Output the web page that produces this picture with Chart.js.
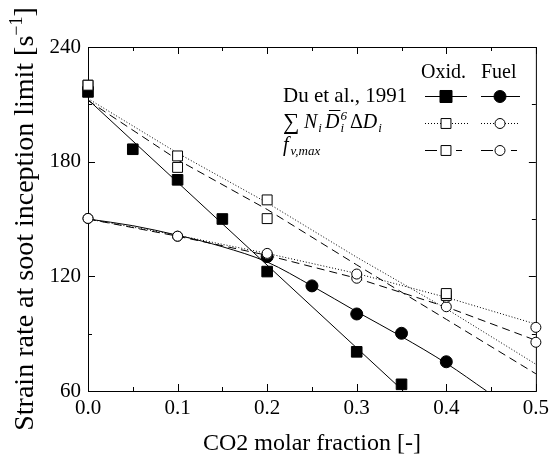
<!DOCTYPE html>
<html>
<head>
<meta charset="utf-8">
<script src="https://cdn.jsdelivr.net/npm/chart.js@4.4.1/dist/chart.umd.min.js"></script>
<style>
    html, body { margin: 0; padding: 0; background: #fff; }
</style>
</head>
<body>
<canvas id="chart" width="554" height="455"></canvas>
<script>
// axes
var xTickLabels = ['0.0', '0.1', '0.2', '0.3', '0.4', '0.5'];
var xMinorTicks = [0.05, 0.15, 0.25, 0.35, 0.45];
var yTickLabels = [60, 120, 180, 240];
var yMinorTicks = [90, 150, 210];

// Du et al., 1991 (filled markers)
var oxidExpX = [0, 0.05, 0.1, 0.15, 0.2, 0.3, 0.35];
var oxidExpY = [216.5, 186.5, 170.5, 150, 122.5, 80.5, 63.5];
var fuelExpX = [0.2, 0.25, 0.3, 0.35, 0.4];
var fuelExpY = [130.3, 115, 100.3, 90.2, 75.3];

// solid curves through the experiments
var oxidFitX = [0, 0.352];
var oxidFitY = [212.5, 60];
var fuelFitX = [0, 0.05, 0.1, 0.15, 0.2, 0.25, 0.3, 0.35, 0.4, 0.445];
var fuelFitY = [150, 146.5, 141.5, 135.5, 127.5, 115, 101.5, 88.5, 74.5, 60];

// model markers (open)
var oxidMarkX = [0, 0.1, 0.2, 0.4];
var oxidSumMark = [220, 183, 160, 111];
var oxidFvMark = [220, 177, 150.2, 110];
var fuelMarkX = [0, 0.1, 0.2, 0.3, 0.4, 0.5];
var fuelSumMark = [150.3, 141, 132, 121.2, 109, 93.3];
var fuelFvMark = [150.3, 141, 131.5, 119, 104.1, 85.5];

// model lines: dotted = sum N D^6 dD, dashed = fv,max
var lineX = [0, 0.1, 0.2, 0.3, 0.4, 0.5];
var oxidSumLine = [213, 184.5, 158.5, 130, 103, 74];
var oxidFvLine = [212, 181, 155, 126, 97.5, 69];
var fuelSumLine = [150, 141.5, 132, 121.5, 109, 95];
var fuelFvLine = [150, 141, 131, 119, 104, 86.5];

var SERIF = '"Liberation Serif", "Times New Roman", serif';
var DOT = [1, 2];
var DASH = [8, 5];

function pts(xs, ys) {
    return xs.map(function (x, i) { return {x: x, y: ys[i]}; });
}

function lineSet(xs, ys, dash, order, smooth) {
    return {
        data: pts(xs, ys),
        showLine: true,
        borderColor: '#000',
        borderWidth: 1,
        borderDash: dash,
        pointRadius: 0,
        fill: false,
        cubicInterpolationMode: smooth ? 'monotone' : 'default',
        order: order
    };
}

function markSet(xs, ys, style, radius, filled, order) {
    return {
        data: pts(xs, ys),
        showLine: false,
        pointStyle: style,
        pointRadius: radius,
        pointBorderWidth: 1,
        pointBorderColor: '#000',
        pointBackgroundColor: filled ? '#000' : '#fff',
        clip: false,
        order: order
    };
}

function seg(ctx, x1, y1, x2, y2) {
    ctx.beginPath();
    ctx.moveTo(x1, y1);
    ctx.lineTo(x2, y2);
    ctx.stroke();
}

function mark(ctx, style, x, y, r, filled) {
    ctx.beginPath();
    if (style == 'rect') {
        var h = r * Math.SQRT1_2;
        ctx.rect(x - h, y - h, 2 * h, 2 * h);
    } else {
        ctx.arc(x, y, r, 0, Math.PI * 2);
    }
    ctx.fillStyle = filled ? '#000' : '#fff';
    ctx.fill();
    ctx.setLineDash([]);
    ctx.stroke();
}

// writes pieces one after the other: [text, font, dy]
function run(ctx, x, y, parts) {
    parts.forEach(function (p) {
        ctx.font = p[1];
        ctx.fillText(p[0], x, y + (p[2] || 0));
        x += ctx.measureText(p[0]).width + (p[3] || 0);
    });
    return x;
}

var framePlugin = {
    id: 'frame',
    beforeDatasetsDraw: function (chart) {
        var ctx = chart.ctx, a = chart.chartArea;
        var xs = chart.scales.x, ys = chart.scales.y;
        ctx.save();
        ctx.strokeStyle = '#000';
        ctx.lineWidth = 1;
        ctx.setLineDash([]);
        ctx.strokeRect(a.left + 0.5, a.top + 0.5, a.right - a.left, a.bottom - a.top);
        function xt(v, len) {
            var p = Math.round(xs.getPixelForValue(v)) + 0.5;
            seg(ctx, p, a.bottom, p, a.bottom - len);
            seg(ctx, p, a.top, p, a.top + len);
        }
        function yt(v, len) {
            var p = Math.round(ys.getPixelForValue(v)) + 0.5;
            seg(ctx, a.left, p, a.left + len, p);
            seg(ctx, a.right, p, a.right - len, p);
        }
        xTickLabels.forEach(function (t) { xt(parseFloat(t), 7); });
        xMinorTicks.forEach(function (v) { xt(v, 4); });
        yTickLabels.forEach(function (v) { yt(v, 7); });
        yMinorTicks.forEach(function (v) { yt(v, 4); });
        ctx.restore();
    },
    afterDraw: function (chart) {
        var ctx = chart.ctx, a = chart.chartArea;
        ctx.save();
        ctx.fillStyle = '#000';
        ctx.strokeStyle = '#000';
        ctx.lineWidth = 1;

        // x title
        ctx.textAlign = 'center';
        ctx.textBaseline = 'alphabetic';
        ctx.font = '24px ' + SERIF;
        ctx.fillText('CO2 molar fraction [-]', (a.left + a.right) / 2, 450);

        // y title, rotated
        ctx.textAlign = 'left';
        var big = '28px ' + SERIF, sup = '18px ' + SERIF;
        var parts = [['Strain rate at soot inception limit [s', big, 0], ['\u22121', sup, -11], [']', big, 0]];
        var w = 0;
        parts.forEach(function (p) { ctx.font = p[1]; w += ctx.measureText(p[0]).width; });
        ctx.save();
        ctx.translate(33, 219);
        ctx.rotate(-Math.PI / 2);
        run(ctx, -w / 2, 0, parts);
        ctx.restore();

        // legend
        var reg = '20px ' + SERIF, it = 'italic 20px ' + SERIF, sm = 'italic 13px ' + SERIF;
        ctx.font = reg;
        ctx.fillText('Oxid.', 421, 78);
        ctx.fillText('Fuel', 481, 78);
        ctx.font = '21px ' + SERIF;
        ctx.fillText('Du et al., 1991', 283, 102);

        ctx.font = '23px ' + SERIF;
        ctx.fillText('\u2211', 283, 129);
        var x = run(ctx, 304, 128, [['N', it, 0, 1], ['i', sm, 4, 3]]);
        ctx.font = it;
        var dw = ctx.measureText('D').width;
        ctx.fillText('D', x, 128);
        ctx.fillRect(x + 4, 110, dw - 3, 1);
        x += dw + 1;
        ctx.font = sm;
        ctx.fillText('6', x, 120);
        ctx.fillText('i', x, 132);
        x += ctx.measureText('6').width + 3;
        run(ctx, x, 128, [['\u0394', reg, 0], ['D', it, 0, 1], ['i', sm, 4]]);

        run(ctx, 283, 151, [['f', it, 0, 2], ['v,max', sm, 4]]);

        // legend samples
        ctx.setLineDash([]);
        seg(ctx, 425, 96.5, 467, 96.5);
        seg(ctx, 481, 96.5, 520, 96.5);
        mark(ctx, 'rect', 446, 96.5, 8.5, true);
        mark(ctx, 'circle', 500, 96.5, 6, true);

        ctx.setLineDash(DOT);
        seg(ctx, 425, 123.5, 468, 123.5);
        seg(ctx, 481, 123.5, 520, 123.5);
        mark(ctx, 'rect', 446, 123.5, 7, false);
        mark(ctx, 'circle', 500, 123.5, 5, false);

        ctx.setLineDash([]);
        seg(ctx, 425, 150.5, 437, 150.5);
        seg(ctx, 456, 150.5, 462, 150.5);
        seg(ctx, 481, 150.5, 493, 150.5);
        seg(ctx, 511, 150.5, 517, 150.5);
        mark(ctx, 'rect', 446, 150.5, 7, false);
        mark(ctx, 'circle', 500, 150.5, 5, false);
        ctx.restore();
    }
};

var ctx = document.getElementById('chart').getContext('2d');
new Chart(ctx, {
    type: 'scatter',
    data: {
        datasets: [
            markSet(oxidMarkX, oxidSumMark, 'rect', 7, false, 0),
            markSet(oxidMarkX, oxidFvMark, 'rect', 7, false, 0),
            markSet(fuelMarkX, fuelSumMark, 'circle', 5, false, 0),
            markSet(fuelMarkX, fuelFvMark, 'circle', 5, false, 0),
            markSet(oxidExpX, oxidExpY, 'rect', 7.5, true, 1),
            markSet(fuelExpX, fuelExpY, 'circle', 6, true, 1),
            lineSet(oxidFitX, oxidFitY, [], 2, false),
            lineSet(fuelFitX, fuelFitY, [], 2, true),
            lineSet(lineX, oxidSumLine, DOT, 2, false),
            lineSet(lineX, oxidFvLine, DASH, 2, false),
            lineSet(lineX, fuelSumLine, DOT, 2, false),
            lineSet(lineX, fuelFvLine, DASH, 2, false)
        ]
    },
    options: {
        responsive: false,
        animation: false,
        layout: {padding: {top: 47, right: 14, left: 0, bottom: 0}},
        plugins: {
            legend: {display: false},
            tooltip: {enabled: false}
        },
        scales: {
            x: {
                type: 'linear',
                min: 0,
                max: 0.5,
                grid: {display: false, drawTicks: false},
                border: {display: false},
                ticks: {
                    stepSize: 0.1,
                    padding: 5,
                    maxRotation: 0,
                    autoSkip: false,
                    color: '#000',
                    font: {family: SERIF, size: 21},
                    callback: function (v, i) { return xTickLabels[i]; }
                },
                afterFit: function (s) { s.height = 64; }
            },
            y: {
                type: 'linear',
                min: 60,
                max: 240,
                grid: {display: false, drawTicks: false},
                border: {display: false},
                ticks: {
                    stepSize: 60,
                    padding: 7,
                    color: '#000',
                    font: {family: SERIF, size: 21}
                },
                afterFit: function (s) { s.width = 88; }
            }
        }
    },
    plugins: [framePlugin]
});
</script>
</body>
</html>
